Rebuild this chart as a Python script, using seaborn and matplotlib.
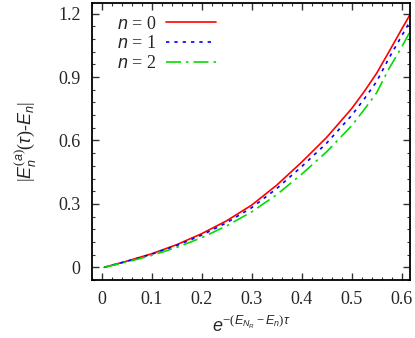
import pandas as pd
import matplotlib
matplotlib.use("Agg")
import matplotlib.pyplot as plt
import matplotlib.font_manager as fm
from matplotlib.ticker import MultipleLocator
import seaborn as sns

# values
x_vals = [0.005, 0.05, 0.1, 0.15, 0.2, 0.25, 0.3, 0.35, 0.4, 0.45, 0.5, 0.525, 0.55, 0.575, 0.6, 0.617]
n0_vals = [0.0, 0.029, 0.064, 0.107, 0.159, 0.220, 0.294, 0.388, 0.497, 0.614, 0.750, 0.83, 0.917, 1.02, 1.125, 1.195]
n1_vals = [0.0, 0.028, 0.062, 0.103, 0.152, 0.211, 0.282, 0.372, 0.476, 0.587, 0.718, 0.795, 0.878, 0.99, 1.093, 1.163]
n2_vals = [0.0, 0.025, 0.056, 0.094, 0.140, 0.196, 0.262, 0.343, 0.440, 0.546, 0.669, 0.745, 0.825, 0.94, 1.04, 1.115]
labels = [r"$n$ = 0", r"$n$ = 1", r"$n$ = 2"]
xticks = [0, 0.1, 0.2, 0.3, 0.4, 0.5, 0.6]
yticks = [0, 0.3, 0.6, 0.9, 1.2]

serif_file = "/usr/share/fonts/truetype/liberation/LiberationSerif-Regular.ttf"
sans_it_file = "/usr/share/fonts/truetype/liberation/LiberationSans-Italic.ttf"
fm.fontManager.addfont(serif_file)
fm.fontManager.addfont(sans_it_file)
serif_name = fm.FontProperties(fname=serif_file).get_name()
sans_name = fm.FontProperties(fname=sans_it_file).get_name()

sns.set_style("ticks")
plt.rcParams["font.family"] = "serif"
plt.rcParams["font.serif"] = [serif_name, "DejaVu Serif"]
plt.rcParams["mathtext.fontset"] = "custom"
plt.rcParams["mathtext.it"] = sans_name + ":italic"
plt.rcParams["mathtext.rm"] = serif_name
plt.rcParams["mathtext.cal"] = serif_name

tick_font = fm.FontProperties(fname=serif_file, size=13)
leg_font = fm.FontProperties(family=serif_name, size=13)

df = pd.DataFrame({"x": x_vals, "n0": n0_vals, "n1": n1_vals, "n2": n2_vals})

fig = plt.figure(figsize=(4.15, 3.38), dpi=100)
ax = fig.add_axes([0.2210, 0.1716, 0.7670, 0.8195])

styles = [
    ("n0", "#ff0000", "-"),
    ("n1", "#0000ff", (0, (2, 3))),
    ("n2", "#00dd00", (0, (9, 3, 1.5, 3))),
]
for (col, color, ls), lab in zip(styles, labels):
    sns.lineplot(data=df, x="x", y=col, ax=ax, color=color, linestyle=ls,
                 linewidth=1.2, label=lab)

ax.set_xlim(-0.02, 0.617)
ax.set_ylim(-0.06, 1.25)
ax.xaxis.set_minor_locator(MultipleLocator(0.02))
ax.yaxis.set_minor_locator(MultipleLocator(0.06))
ax.set_xticks(xticks)
ax.set_xticklabels(["0", "0.1", "0.2", "0.3", "0.4", "0.5", "0.6"], fontproperties=tick_font)
ax.set_yticks(yticks)
ax.set_yticklabels(["0", "0.3", "0.6", "0.9", "1.2"], fontproperties=tick_font)

ax.tick_params(which="both", direction="in", top=True, right=True, color="#333333")
ax.tick_params(which="major", length=5, width=1, pad=8)
ax.tick_params(which="minor", length=2.5, width=0.8)
for sp in ax.spines.values():
    sp.set_linewidth(1.3)
    sp.set_color("black")

ax.set_xlabel(r"$e^{-(E_{N_R}-E_n)\tau}$", fontsize=13, labelpad=5)
ax.set_ylabel(r"$|E_n^{(a)}(\tau)$-$E_n|$", fontsize=13, labelpad=14)

ax.legend(loc="upper left", frameon=False, markerfirst=False, prop=leg_font,
          handlelength=2.8, handletextpad=0.5, labelspacing=0.15, borderaxespad=0.3,
          bbox_to_anchor=(0.04, 1.0))

fig.savefig("out.png", dpi=100)
